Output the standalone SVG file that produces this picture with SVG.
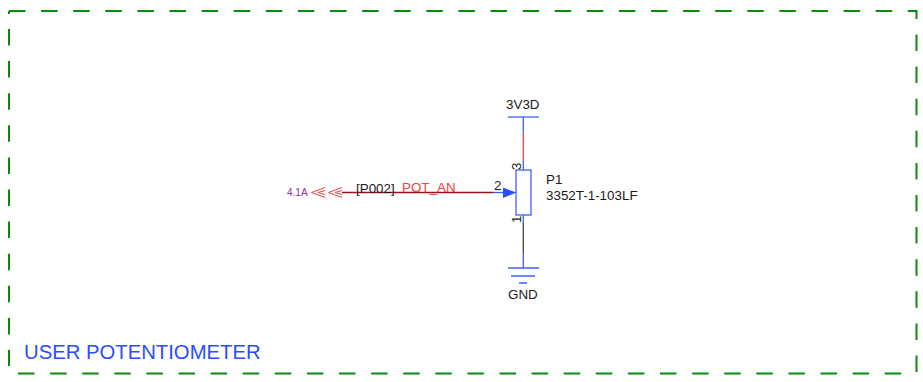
<svg xmlns="http://www.w3.org/2000/svg" width="923" height="382" viewBox="0 0 923 382">
<style>
text{font-family:"Liberation Sans",Arial,sans-serif;font-size:13.4px;fill:#1a1a1a}
.frame{stroke:#0a8a0a;stroke-width:2;fill:none;stroke-dasharray:16.5 15.6}
.blue{stroke:#3f5fff;stroke-width:1.3;fill:none}
.red{stroke:#f04040;stroke-width:1.3;fill:none}
.chev{stroke:#f04040;stroke-width:1;fill:none}
</style>
<rect width="923" height="382" fill="#fff"/>
<g id="frame">
<path class="frame" d="M9 11H916.500"/>
<path class="frame" d="M9 29V366"/>
<path d="M9 11V14" stroke="#0a8a0a" stroke-width="2" fill="none"/>
<path class="frame" d="M18 373.500H902"/>
<path class="frame" d="M916.500 372V10"/>
<text x="24" y="359" style="font-size:20.300px;fill:#2a4dff">USER POTENTIOMETER</text>
</g>
<g id="connectors">
<path d="M342 192.500H493" stroke="#a01020" stroke-width="1.300" fill="none"/>
<path class="blue" d="M493 192.500H516"/>
<path class="red" d="M523.300 132.500V161"/>
<path class="blue" d="M523.300 117V132.500M523.300 161V170"/>
<path d="M523.300 223V253" stroke="#444" stroke-width="1.300" fill="none"/>
<path class="blue" d="M523.300 215V223M523.300 253V268"/>
</g>
<g id="offpage">
<text x="287" y="196" style="font-size:10px;fill:#9030a0">4.1A</text>
<path class="chev" d="M325 187.500L311.500 192.500L325 197.500M325 190.500L318 192.500L325 194.500"/>
<path class="chev" d="M342 187.500L328.500 192.500L342 197.500M342 190.500L335 192.500L342 194.500"/>
<text x="356" y="193">[P002]</text>
<text x="402" y="192" style="fill:#f04040">POT_AN</text>
</g>
<g id="P1">
<rect class="blue" x="516" y="170" width="15" height="45"/>
<path d="M503 187.500L516 192.500L503 198Z" fill="#2a4dff"/>
<text x="494" y="190">2</text>
<text transform="translate(521 170) rotate(-90)">3</text>
<text transform="translate(521 223) rotate(-90)">1</text>
<text x="546" y="184">P1</text>
<text x="546" y="200">3352T-1-103LF</text>
</g>
<g id="vcc">
<path class="blue" d="M508 117H539"/>
<text x="506" y="109">3V3D</text>
</g>
<g id="gnd">
<path class="blue" d="M508 268H539M511 276H535M519 283H527"/>
<text x="508" y="299">GND</text>
</g>
</svg>
